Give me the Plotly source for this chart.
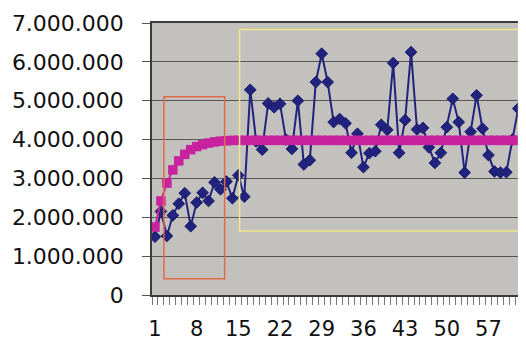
import plotly.graph_objects as go

# ---- data (values in millions) ----
categories = list(range(1, 64))

series_blue = [1.50, 2.15, 1.52, 2.05, 2.35, 2.62, 1.77, 2.38, 2.63, 2.42,
               2.90, 2.72, 2.92, 2.49, 3.08, 2.53, 5.28, 3.95, 3.74, 4.93,
               4.83, 4.92, 4.00, 3.76, 5.00, 3.36, 3.47, 5.48, 6.21, 5.48,
               4.45, 4.53, 4.42, 3.66, 4.15, 3.29, 3.65, 3.70, 4.38, 4.25,
               5.97, 3.66, 4.50, 6.25, 4.26, 4.30, 3.80, 3.40, 3.66, 4.32,
               5.05, 4.45, 3.15, 4.20, 5.14, 4.28, 3.60, 3.18, 3.15, 3.16,
               4.00, 4.80, 3.15]

series_magenta = [1.75, 2.42, 2.88, 3.22, 3.45, 3.62, 3.74, 3.82, 3.87, 3.91,
                  3.94, 3.96, 3.97, 3.98, 3.98, 3.98, 3.98, 3.98, 3.98, 3.98,
                  3.98, 3.98, 3.98, 3.98, 3.98, 3.98, 3.98, 3.98, 3.98, 3.98,
                  3.98, 3.98, 3.98, 3.98, 3.98, 3.98, 3.98, 3.98, 3.98, 3.98,
                  3.98, 3.98, 3.98, 3.98, 3.98, 3.98, 3.98, 3.98, 3.98, 3.98,
                  3.98, 3.98, 3.98, 3.98, 3.98, 3.98, 3.98, 3.98, 3.98, 3.98,
                  3.98, 3.98, 3.98]

x_tick_vals = [1, 8, 15, 22, 29, 36, 43, 50, 57]
x_tick_text = ["1", "8", "15", "22", "29", "36", "43", "50", "57"]

y_tick_vals = [0, 1e6, 2e6, 3e6, 4e6, 5e6, 6e6, 7e6]
y_tick_text = ["0", "1.000.000", "2.000.000", "3.000.000", "4.000.000",
               "5.000.000", "6.000.000", "7.000.000"]

# highlight boxes: [x0, x1, y0, y1] in category / value units
red_box = [2.5, 12.7, 0.42e6, 5.1e6]
yellow_box = [15.2, 62.05, 1.65e6, 6.83e6]

blue_vals = [v * 1e6 for v in series_blue]
magenta_vals = [v * 1e6 for v in series_magenta]

fig = go.Figure()
fig.add_trace(go.Scatter(
    x=categories, y=blue_vals, mode="lines+markers",
    line=dict(color="#21237E", width=2),
    marker=dict(symbol="diamond", size=9, color="#21237E",
                line=dict(color="#1A1C6A", width=1)),
))
fig.add_trace(go.Scatter(
    x=categories, y=magenta_vals, mode="lines+markers",
    line=dict(color="#C8229F", width=2),
    marker=dict(symbol="square", size=9.5, color="#C8229F"),
))

fig.add_shape(type="rect", xref="x", yref="y",
              x0=red_box[0], x1=red_box[1], y0=red_box[2], y1=red_box[3],
              line=dict(color="#E06A4A", width=1.5))
fig.add_shape(type="rect", xref="x", yref="y",
              x0=yellow_box[0], x1=yellow_box[1], y0=yellow_box[2], y1=yellow_box[3],
              line=dict(color="#EDE58A", width=1.5))

font_family = "DejaVu Sans"
# the page body has an 8px default margin, so the figure is sized to fit the window
fig.update_layout(
    width=518, height=332,
    margin=dict(l=144, r=0, t=15, b=45, autoexpand=False),
    paper_bgcolor="white",
    plot_bgcolor="#C3C1BE",
    showlegend=False,
    font=dict(family=font_family, size=22, color="#111111"),
)
fig.update_xaxes(
    range=[0.5, 63.3], automargin=False,
    tickmode="array", tickvals=x_tick_vals, ticktext=x_tick_text,
    ticks="", ticklabelstandoff=14,
    showgrid=False, zeroline=False,
    showline=True, linecolor="#3C3C3C", linewidth=1.5, mirror=True,
    minor=dict(tick0=0.5, dtick=1, ticks="outside", ticklen=8,
               tickcolor="#777777", tickwidth=1, showgrid=False),
    tickfont=dict(family=font_family, size=21, color="#111111"),
)
fig.update_yaxes(
    range=[0, 7e6], automargin=False,
    tickmode="array", tickvals=y_tick_vals, ticktext=y_tick_text,
    ticks="outside", ticklen=8, tickcolor="#555555", tickwidth=1,
    ticklabelstandoff=14,
    showgrid=True, gridcolor="#555555", gridwidth=1,
    zeroline=False,
    showline=True, linecolor="#3C3C3C", linewidth=1.5,
    tickfont=dict(family=font_family, size=22, color="#111111"),
)

fig.write_html("out.html")
